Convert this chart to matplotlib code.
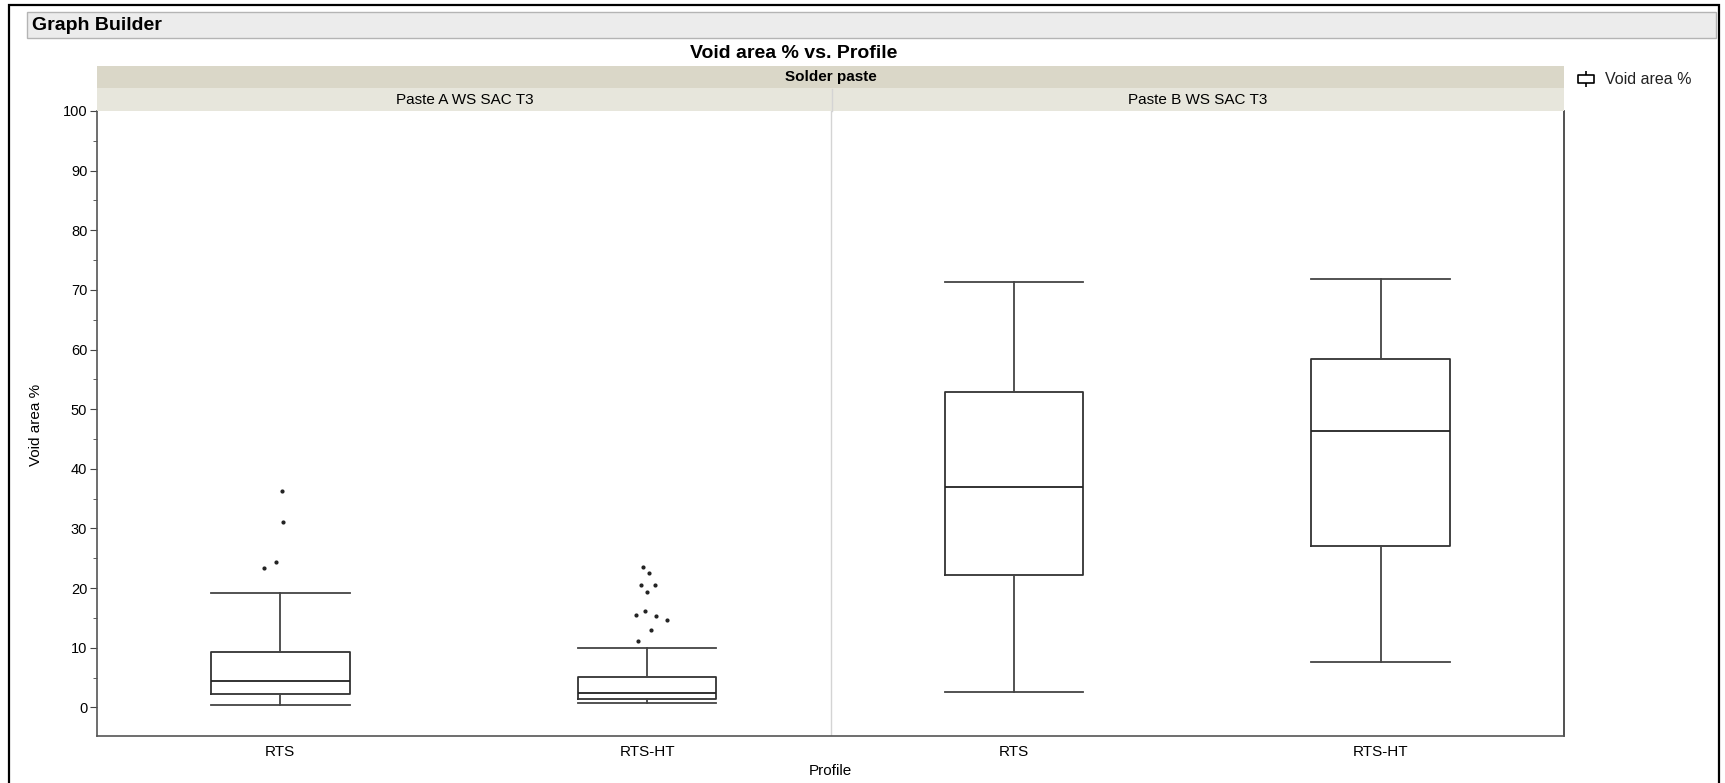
# Box plot de Void area % por perfil y pasta (estilo JMP Graph Builder).
import matplotlib; matplotlib.use("Agg")
import matplotlib.pyplot as plt
from matplotlib.patches import Rectangle
from matplotlib.lines import Line2D
from matplotlib.path import Path
from matplotlib.ticker import MultipleLocator

plt.rcParams["font.family"] = ["Liberation Sans", "DejaVu Sans"]

# datos
pastas = ["Paste A WS SAC T3", "Paste B WS SAC T3"]
perfiles = ["RTS", "RTS-HT", "RTS", "RTS-HT"]
whislo = [0.4, 0.7, 2.6, 7.6]
q1 = [2.2, 1.4, 22.2, 27.1]
med = [4.5, 2.4, 36.9, 46.3]
q3 = [9.3, 5.1, 52.8, 58.4]
whishi = [19.2, 9.9, 71.4, 71.8]
# outliers (solo pasta A) y su jitter horizontal
out_a_rts = [36.3, 31.0, 24.3, 23.4]
jit_a_rts = [0.004, 0.007, -0.011, -0.044]
out_a_ht = [23.6, 22.5, 20.5, 20.5, 19.4, 16.2, 15.5, 15.3, 14.7, 12.9, 11.1]
jit_a_ht = [-0.011, 0.004, -0.018, 0.022, 0.0, -0.007, -0.029, 0.025, 0.054, 0.011, -0.026]

W, H = 1725, 783
fig = plt.figure(figsize=(W / 100, H / 100), dpi=100)
fig.patch.set_facecolor("white")

def fx(px): return px / W
def fy(py): return 1 - py / H

# marco exterior y barra "Graph Builder"
fig.patches.append(Rectangle((fx(9), -0.02), fx(1719 - 9), fy(5) + 0.02, transform=fig.transFigure,
                             fill=False, edgecolor="black", lw=1.6))
fig.patches.append(Rectangle((fx(27), fy(38)), fx(1716 - 27), 26 / H, transform=fig.transFigure,
                             facecolor="#ececec", edgecolor="#b4b4b4", lw=1))
fig.text(fx(32), fy(25), "Graph Builder", fontsize=14, fontweight="bold", va="center", ha="left")
fig.text(fx(794), fy(54), "Void area % vs. Profile", fontsize=14, fontweight="bold", va="center", ha="center")

L, R, T, B = 97, 1564, 111, 735.7
ax = fig.add_axes([fx(L), fy(B), fx(R - L), (B - T) / H])

pos = list(range(len(perfiles)))
stats = [dict(med=med[i], q1=q1[i], q3=q3[i], whislo=whislo[i], whishi=whishi[i], fliers=[])
         for i in pos]
ax.bxp(stats, positions=pos, widths=0.378, capwidths=0.378, showfliers=False,
       boxprops=dict(color="#333", lw=1.3), medianprops=dict(color="#222", lw=1.3),
       whiskerprops=dict(color="#444", lw=1.3), capprops=dict(color="#444", lw=1.3))

ax.scatter([pos[0] + j for j in jit_a_rts], out_a_rts, s=4, color="#222", zorder=3)
ax.scatter([pos[1] + j for j in jit_a_ht], out_a_ht, s=4, color="#222", zorder=3)

ax.axvline(1.5, color="#d4d4d4", lw=1)
ax.set_xlim(-0.5, len(perfiles) - 0.5)
ax.set_ylim(-4.75, 100)
ax.set_xticks(pos)
ax.set_xticklabels(perfiles, fontsize=11)
ax.set_yticks(range(0, 101, 10))
ax.yaxis.set_minor_locator(MultipleLocator(5))
ax.tick_params(axis="x", length=0, pad=7)
ax.tick_params(axis="y", which="major", length=5, color="#444", labelsize=10.5, pad=2)
ax.tick_params(axis="y", which="minor", length=3, color="#444")
ax.spines["top"].set_visible(False)
ax.spines["left"].set_color("#555")
ax.spines["bottom"].set_color("#555")
ax.spines["right"].set_color("#333")
for sp in ("left", "bottom", "right"): ax.spines[sp].set_linewidth(1.2)

fig.text(fx(830.5), fy(771), "Profile", fontsize=11, ha="center", va="center")
fig.text(fx(36), fy(425), "Void area %", fontsize=11, rotation=90, ha="center", va="center")

# tiras de cabecera
fig.patches.append(Rectangle((fx(L), fy(88.5)), fx(R - L), 22.5 / H, transform=fig.transFigure,
                             facecolor="#dad7c8", edgecolor="none"))
fig.patches.append(Rectangle((fx(L), fy(111)), fx(R - L), 22.5 / H, transform=fig.transFigure,
                             facecolor="#e7e6dc", edgecolor="none"))
fig.text(fx((L + R) / 2), fy(77.5), "Solder paste", fontsize=11, fontweight="bold", ha="center", va="center")
mid = 832
fig.lines.append(Line2D([fx(mid), fx(mid)], [fy(88.5), fy(111)], transform=fig.transFigure,
                        color="#d4d4d4", lw=1))
fig.text(fx((L + mid) / 2), fy(100), pastas[0], fontsize=11, ha="center", va="center")
fig.text(fx((mid + R) / 2), fy(100), pastas[1], fontsize=11, ha="center", va="center")

# leyenda con icono de box plot
icon = Path([(-1, -0.5), (1, -0.5), (1, 0.5), (-1, 0.5), (-1, -0.5),
             (0, 0.5), (0, 1), (0, -0.5), (0, -1)],
            [Path.MOVETO, Path.LINETO, Path.LINETO, Path.LINETO, Path.CLOSEPOLY,
             Path.MOVETO, Path.LINETO, Path.MOVETO, Path.LINETO])
h = Line2D([], [], ls="none", marker=icon, ms=11.5, mfc="white", mec="black", mew=1.2)
fig.legend([h], ["Void area %"], loc="center left", bbox_to_anchor=(fx(1578), fy(80)),
           frameon=False, handlelength=1.0, handletextpad=0.7, fontsize=11.5,
           borderaxespad=0, borderpad=0, labelcolor="#222")

fig.savefig("out.png", dpi=100, facecolor="white")
